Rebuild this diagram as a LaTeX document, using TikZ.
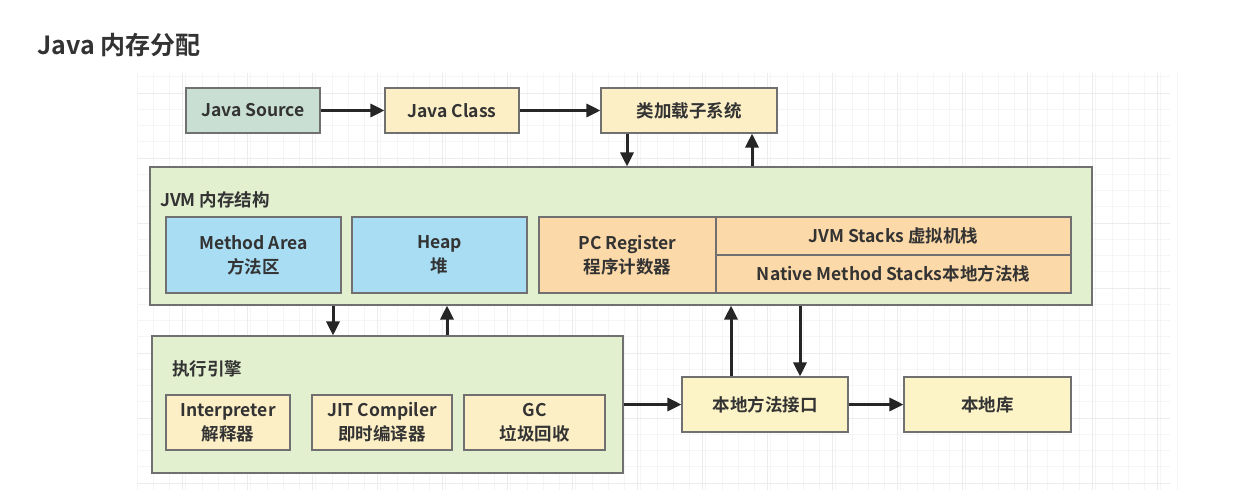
\documentclass[tikz,border=0pt]{standalone}
\usepackage{fontspec}
\setmainfont{Noto Sans CJK SC}[BoldFont={Noto Sans CJK SC Bold}]
\usetikzlibrary{arrows.meta,calc}
\definecolor{txt}{HTML}{333333}
\definecolor{bord}{HTML}{707070}
\definecolor{srcfill}{HTML}{C9DFD3}
\definecolor{yel}{HTML}{FCEFC6}
\definecolor{lemon}{HTML}{FCF4C6}
\definecolor{jvmfill}{HTML}{E3F0D0}
\definecolor{blu}{HTML}{A9DDF3}
\definecolor{org}{HTML}{FCD9A8}
\definecolor{gridminor}{HTML}{F5F5F5}
\definecolor{gridmajor}{HTML}{ECECEC}
\tikzset{
  box/.style={draw=bord, line width=1.1pt, rectangle, inner sep=0pt,
    align=center, text=txt, font=\bfseries\fontsize{17.5}{24}\selectfont},
  container/.style={draw=bord, line width=1.1pt, fill=jvmfill, rectangle, inner sep=0pt},
  arr/.style={draw=black!85, line width=3pt, -{Triangle[length=14pt,width=13pt]}},
  lbl/.style={anchor=west, text=txt, inner sep=0pt, font=\bfseries\fontsize{17.5}{20}\selectfont}
}
\begin{document}
\begin{tikzpicture}[x=1pt,y=-1pt]
\useasboundingbox (0,0) rectangle (1242,490);
\fill[white] (0,0) rectangle (1242,490);
% faint background grid
\foreach \i in {0,...,64} {
  \pgfmathsetmacro{\gx}{137+16.25*\i}
  \draw[gridminor, line width=0.6pt] (\gx,73) -- (\gx,490);
}
\foreach \j in {0,...,25} {
  \pgfmathsetmacro{\gy}{76.75+16.25*\j}
  \draw[gridminor, line width=0.6pt] (137,\gy) -- (1170,\gy);
}
\foreach \i in {0,...,16} {
  \pgfmathsetmacro{\gx}{117+65*\i}
  \ifdim\gx pt>136pt \draw[gridmajor, line width=0.8pt] (\gx,73) -- (\gx,490);\fi
}
\foreach \j in {0,...,6} {
  \pgfmathsetmacro{\gy}{93+65*\j}
  \draw[gridmajor, line width=0.8pt] (137,\gy) -- (1170,\gy);
}

% title
\node[anchor=west, text=txt, inner sep=0pt, font=\bfseries\fontsize{25}{30}\selectfont] (title) at (37,45) {Java 内存分配};

% top row
\node[box, fill=srcfill, minimum width=134pt, minimum height=45pt] (src) at (253,110.5) {Java Source};
\node[box, fill=yel, minimum width=134pt, minimum height=45pt] (cls) at (452,110.5) {Java Class};
\node[box, fill=yel, minimum width=176pt, minimum height=45pt] (cl) at (689,110.5) {类加载子系统};

% JVM memory container
\node[container, minimum width=942pt, minimum height=138pt] (jvm) at (621,236) {};
\node[lbl] (jvmlbl) at (160,200) {JVM 内存结构};
\node[box, fill=blu, minimum width=175pt, minimum height=76pt] (ma) at (253.5,255) {Method Area\\方法区};
\node[box, fill=blu, minimum width=175pt, minimum height=76pt] (heap) at (439.5,255) {Heap\\堆};
\node[box, fill=org, minimum width=177pt, minimum height=76pt] (pc) at (627.5,255) {PC Register\\程序计数器};
\node[box, fill=org, minimum width=355pt, minimum height=38pt] (js) at (893.5,236) {JVM Stacks 虚拟机栈};
\node[box, fill=org, minimum width=355pt, minimum height=38pt] (ns) at (893.5,274) {Native Method Stacks本地方法栈};

% execution engine container
\node[container, minimum width=471pt, minimum height=137pt] (ee) at (387.5,404.5) {};
\node[lbl] (eelbl) at (172,369) {执行引擎};
\node[box, fill=yel, minimum width=124pt, minimum height=55pt] (interp) at (228,422.5) {Interpreter\\解释器};
\node[box, fill=yel, minimum width=140pt, minimum height=55pt] (jit) at (382,422.5) {JIT Compiler\\即时编译器};
\node[box, fill=yel, minimum width=141pt, minimum height=55pt] (gc) at (534.5,422.5) {GC\\垃圾回收};

% native
\node[box, fill=lemon, minimum width=166pt, minimum height=55pt] (jni) at (765,404.5) {本地方法接口};
\node[box, fill=lemon, minimum width=167pt, minimum height=55pt] (lib) at (987.5,404.5) {本地库};

% connectors
\draw[arr] (src) -- (cls);
\draw[arr] (cls) -- (cl);
\path ([xshift=-62pt]cl.south) coordinate (c1);
\path ([xshift=63pt]cl.south) coordinate (c2);
\draw[arr] (c1) -- (c1 |- jvm.north);
\draw[arr] (c2 |- jvm.north) -- (c2);
\path ([xshift=-288pt]jvm.south) coordinate (c3);
\path ([xshift=-174pt]jvm.south) coordinate (c4);
\draw[arr] (c3) -- (c3 |- ee.north);
\draw[arr] (c4 |- ee.north) -- (c4);
\path ([xshift=-34pt]jni.north) coordinate (c5);
\path ([xshift=35pt]jni.north) coordinate (c6);
\draw[arr] (c5) -- (c5 |- jvm.south);
\draw[arr] (c6 |- jvm.south) -- (c6);
\draw[arr] (ee.east |- jni.west) -- (jni.west);
\draw[arr] (jni) -- (lib);
\end{tikzpicture}
\end{document}
